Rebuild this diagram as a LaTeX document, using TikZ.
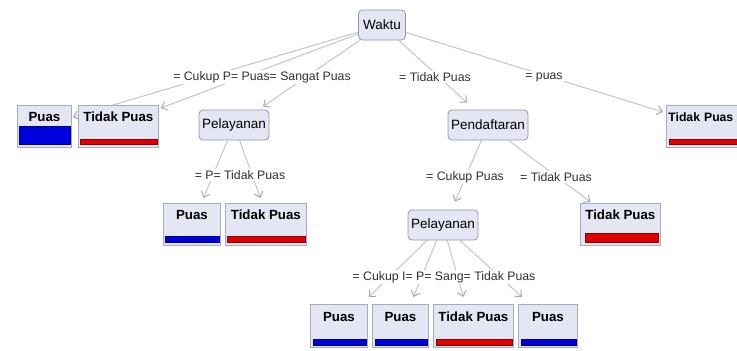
\documentclass[tikz,border=0pt]{standalone}
\usepackage{fontspec}
\setmainfont{Liberation Sans}
\usetikzlibrary{arrows.meta,backgrounds}
\definecolor{nodefill}{HTML}{E4E6F4}
\definecolor{nodeline}{HTML}{9096B4}
\definecolor{edgecol}{HTML}{C4C4C4}
\definecolor{arrowcol}{HTML}{A8A8A8}
\definecolor{barblue}{HTML}{0000DD}
\definecolor{barred}{HTML}{E00000}
\definecolor{labcol}{HTML}{303030}
\begin{document}
\begin{tikzpicture}[x=1pt,y=-1pt,
  every node/.style={font=\fontsize{12.3}{14}\selectfont},
  decision/.style={draw=nodeline,fill=nodefill,rounded corners=4pt,line width=0.8pt,
     minimum height=30pt,inner sep=1pt,font=\fontsize{13.5}{15}\selectfont},
  leaf/.style={draw=nodeline!80,fill=nodefill,line width=0.8pt,anchor=north west,
     font=\fontsize{13.3}{15}\selectfont\bfseries,inner xsep=0pt,inner ysep=3pt,
     text height=13.5pt,text depth=22.5pt},
  edgelab/.style={fill=white,inner sep=1pt,text=labcol},
  edge/.style={draw=edgecol,line width=1pt,-{Straight Barb[length=5pt,width=9pt,color=arrowcol]}},
  bluebar/.style={fill=barblue,draw=barblue!60!black,line width=0.5pt},
  redbar/.style={fill=barred,draw=barred!60!black,line width=0.5pt}
]
\useasboundingbox (0,0) rectangle (737,351);

% decision nodes
\node[decision,minimum width=47pt] (waktu) at (382,25) {Waktu};
\node[decision,minimum width=70pt] (pel1) at (234,125) {Pelayanan};
\node[decision,minimum width=80pt] (pend) at (488,125) {Pendaftaran};
\node[decision,minimum width=70pt] (pel2) at (443,225) {Pelayanan};

% edge labels
\node[edgelab] (l1) at (262,77) {= Cukup P= Puas= Sangat Puas};
\node[edgelab] (l2) at (435,77) {= Tidak Puas};
\node[edgelab] (l3) at (544,77) {= puas};
\node[edgelab] (l4) at (240,175) {= P= Tidak Puas};
\node[edgelab] (l5) at (465,177) {= Cukup Puas};
\node[edgelab] (l6) at (556,177) {= Tidak Puas};
\node[edgelab] (l7) at (444,277) {= Cukup I= P= Sang= Tidak Puas};

% leaves
\node[leaf,minimum width=54pt] (puasA) at (17,105) {Puas};
\node[leaf,minimum width=80pt] (tpA) at (78,105) {Tidak Puas};
\node[leaf,minimum width=80pt,align=left,text width=77pt,inner xsep=2pt,
      font=\fontsize{12.2}{14}\selectfont\bfseries] (tpR) at (666,105) {Tidak Puas};
\node[leaf,minimum width=57pt] (puasB) at (163,203) {Puas};
\node[leaf,minimum width=81pt] (tpB) at (225,203) {Tidak Puas};
\node[leaf,minimum width=80pt] (tpC) at (580,203) {Tidak Puas};
\node[leaf,minimum width=57pt,minimum height=43pt] (puasD) at (310,304) {Puas};
\node[leaf,minimum width=56pt,minimum height=43pt] (puasE) at (372,304) {Puas};
\node[leaf,minimum width=80pt,minimum height=43pt] (tpD) at (433,304) {Tidak Puas};
\node[leaf,minimum width=59pt,minimum height=43pt] (puasF) at (518,304) {Puas};

% class bars
\draw[bluebar] ([shift={(2pt,4pt)}]puasA.south west) rectangle ([shift={(-2pt,22pt)}]puasA.south east);
\draw[redbar] ([shift={(2pt,4pt)}]tpA.south west) rectangle ([shift={(-2pt,9pt)}]tpA.south east);
\draw[redbar] ([shift={(3pt,4pt)}]tpR.south west) rectangle ([shift={(-2pt,9pt)}]tpR.south east);
\draw[bluebar] ([shift={(2pt,4pt)}]puasB.south west) rectangle ([shift={(-2pt,10pt)}]puasB.south east);
\draw[redbar] ([shift={(2pt,4pt)}]tpB.south west) rectangle ([shift={(-2pt,10pt)}]tpB.south east);
\draw[redbar] ([shift={(5pt,4pt)}]tpC.south west) rectangle ([shift={(-3pt,13pt)}]tpC.south east);
\draw[bluebar] ([shift={(3pt,3pt)}]puasD.south west) rectangle ([shift={(-2pt,9pt)}]puasD.south east);
\draw[bluebar] ([shift={(3pt,3pt)}]puasE.south west) rectangle ([shift={(-2pt,9pt)}]puasE.south east);
\draw[redbar] ([shift={(3pt,3pt)}]tpD.south west) rectangle ([shift={(-2pt,9pt)}]tpD.south east);
\draw[bluebar] ([shift={(3pt,3pt)}]puasF.south west) rectangle ([shift={(-2pt,9pt)}]puasF.south east);

% edges behind everything
\begin{scope}[on background layer]
\draw[edge] (waktu) -- ([shift={(1pt,-12pt)}]puasA.north east);
\draw[edge] (waktu) -- ([shift={(2pt,-3pt)}]tpA.north east);
\draw[edge] (waktu) -- ([shift={(29pt,3pt)}]pel1.north);
\draw[edge] (waktu) -- ([shift={(-21pt,7pt)}]pend.north);
\draw[edge] (waktu) -- ([shift={(-3pt,-7pt)}]tpR.north west);
\draw[edge] (pel1) -- ([shift={(11.5pt,5pt)}]puasB.north);
\draw[edge] (pel1) -- ([shift={(-5.5pt,5pt)}]tpB.north);
\draw[edge] (pend) -- ([shift={(12pt,8pt)}]pel2.north);
\draw[edge] (pend) -- ([shift={(-30pt,1pt)}]tpC.north);
\draw[edge] (pel2) -- ([shift={(1pt,7pt)}]puasD.north east);
\draw[edge] (pel2) -- ([shift={(13pt,7pt)}]puasE.north);
\draw[edge] (pel2) -- ([shift={(-10pt,7pt)}]tpD.north);
\draw[edge] (pel2) -- ([shift={(4pt,7pt)}]puasF.north west);
\end{scope}
\end{tikzpicture}
\end{document}
